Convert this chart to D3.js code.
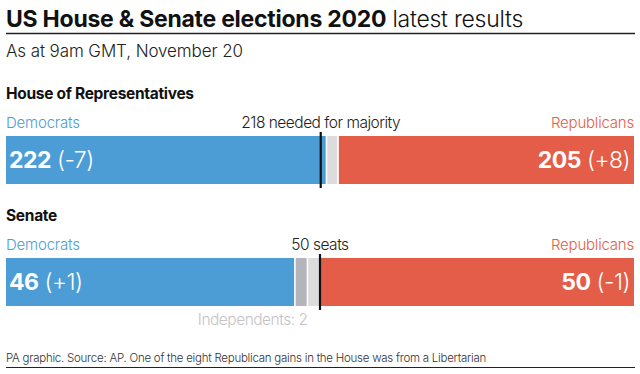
<!DOCTYPE html>
<meta charset="utf-8">
<style>
    body { margin: 0; background: #fff; }
    svg { display: block; font-family: Inter, "Noto Sans", sans-serif; }
    .title { font-size: 23px; font-weight: 700; fill: #111; letter-spacing: -0.25px; }
    .title .light { font-weight: 300; }
    .sub { font-size: 17px; fill: #222; letter-spacing: -0.1px; font-weight: 300; }
    .chamber { font-size: 15.5px; font-weight: 700; fill: #111; letter-spacing: -0.3px; }
    .party { font-size: 15px; letter-spacing: -0.2px; font-weight: 300; }
    .mark { font-size: 15.5px; fill: #222; letter-spacing: -0.5px; font-weight: 300; }
    .seats { font-size: 23px; fill: #fff; letter-spacing: -0.5px; }
    .seats .n { font-weight: 700; }
    .seats .c { font-weight: 300; }
    .note { font-size: 11.5px; fill: #333; letter-spacing: -0.25px; font-weight: 300; }
</style>
<body>
<script src="https://d3js.org/d3.v7.min.js"></script>
<script>
    var width = 640,
        height = 374;

    // seats per chamber, left to right
    var chambers = ['House of Representatives', 'Senate'];
    var groups = ['Democrats', 'Independents', 'Undecided', 'Republicans'];
    var houseSeats = [222, 0, 8, 205];
    var senateSeats = [46, 2, 2, 50];
    var changes = [['-7', '+8'], ['+1', '-1']];
    var majority = [218, 50];
    var majorityLabels = ['218 needed for majority', '50 seats'];

    var colors = {
        Democrats: '#4c9dd6',
        Independents: '#b3b5ba',
        Undecided: '#dcdcdc',
        Republicans: '#e35d49'
    };

    var svg = d3.select('body').append('svg')
        .attr('width', width)
        .attr('height', height);

    // header
    var t = svg.append('text').attr('class', 'title').attr('x', 6).attr('y', 27);
    t.append('tspan').text('US House & Senate elections 2020');
    t.append('tspan').attr('class', 'light').text(' latest results');
    svg.append('line').attr('x1', 6).attr('x2', 635).attr('y1', 33.5).attr('y2', 33.5)
        .attr('stroke', '#222').attr('stroke-width', 1.3);
    svg.append('text').attr('class', 'sub').attr('x', 6).attr('y', 57)
        .text('As at 9am GMT, November 20');

    var tops = [136, 258];
    var barH = 48;
    var data = [houseSeats, senateSeats];

    chambers.forEach(function (name, k) {
        var seats = data[k];
        var total = d3.sum(seats);
        var x = d3.scaleLinear().domain([0, total]).range([6, 634]);
        var y0 = tops[k];

        var acc = 0;
        var segs = seats.map(function (v, i) {
            var s = { group: groups[i], start: acc, end: acc + v };
            acc += v;
            return s;
        }).filter(function (s) { return s.end > s.start; });

        var g = svg.append('g');

        g.append('text').attr('class', 'chamber')
            .attr('x', 6).attr('y', y0 - 37)
            .text(name);

        g.append('text').attr('class', 'party')
            .attr('x', 6).attr('y', y0 - 8)
            .attr('fill', colors.Democrats)
            .text('Democrats');
        g.append('text').attr('class', 'party')
            .attr('x', 634).attr('y', y0 - 8)
            .attr('text-anchor', 'end')
            .attr('fill', colors.Republicans)
            .text('Republicans');

        g.selectAll('rect')
            .data(segs)
            .enter().append('rect')
            .attr('x', function (d, i) { return x(d.start) + (i > 0 ? 0.8 : 0); })
            .attr('width', function (d, i) {
                return x(d.end) - x(d.start) - (i > 0 ? 0.8 : 0) - (i < segs.length - 1 ? 0.8 : 0);
            })
            .attr('y', y0)
            .attr('height', barH)
            .attr('fill', function (d) { return colors[d.group]; });

        // majority marker
        g.append('line')
            .attr('x1', x(majority[k])).attr('x2', x(majority[k]))
            .attr('y1', y0 - 4).attr('y2', y0 + barH + 4)
            .attr('stroke', '#111').attr('stroke-width', 2.2);
        g.append('text').attr('class', 'mark')
            .attr('x', x(majority[k])).attr('y', y0 - 8)
            .attr('text-anchor', 'middle')
            .text(majorityLabels[k]);

        // seat counts inside bars
        var dl = g.append('text').attr('class', 'seats')
            .attr('x', 9).attr('y', y0 + 32);
        dl.append('tspan').attr('class', 'n').text(seats[0]);
        dl.append('tspan').attr('class', 'c').text(' (' + changes[k][0] + ')');

        var rl = g.append('text').attr('class', 'seats')
            .attr('x', 630).attr('y', y0 + 32)
            .attr('text-anchor', 'end');
        rl.append('tspan').attr('class', 'n').text(seats[3]);
        rl.append('tspan').attr('class', 'c').text(' (' + changes[k][1] + ')');

        if (seats[1] > 0) {
            g.append('text').attr('class', 'mark')
                .attr('x', x(seats[0] + seats[1])).attr('y', y0 + barH + 19)
                .attr('text-anchor', 'end')
                .style('fill', '#c4c4c4')
                .text('Independents: ' + seats[1]);
        }
    });

    // footer
    svg.append('text').attr('class', 'note').attr('x', 6).attr('y', 362)
        .text('PA graphic. Source: AP. One of the eight Republican gains in the House was from a Libertarian');
    svg.append('line').attr('x1', 6).attr('x2', 635).attr('y1', 367.5).attr('y2', 367.5)
        .attr('stroke', '#222').attr('stroke-width', 1.2);
</script>
</body>
